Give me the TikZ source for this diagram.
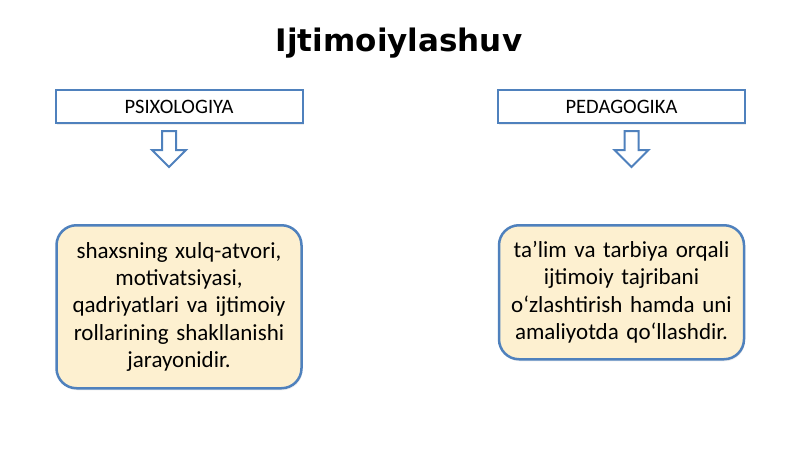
\documentclass[tikz,border=0pt]{standalone}
\usepackage{fontspec}
\setmainfont{Carlito}
\newfontfamily\titlefont{DejaVu Sans}
\usetikzlibrary{positioning,shapes.arrows,shadows}
\definecolor{boxblue}{HTML}{4F81BD}
\definecolor{boxfill}{HTML}{FDF0D0}

\begin{document}
\begin{tikzpicture}[x=1pt,y=1pt,
    head/.style={draw=boxblue,line width=2pt,fill=white,minimum width=247pt,minimum height=33pt,
      inner sep=0pt,font=\fontsize{20.5}{24}\selectfont,
      drop shadow={opacity=0.15,shadow xshift=1pt,shadow yshift=-2pt}},
    downarrow/.style={single arrow,draw=boxblue,line width=2pt,fill=white,rotate=-90,
      minimum height=36pt,minimum width=32pt,inner sep=6pt,single arrow head extend=10pt},
    note/.style={draw=boxblue,line width=2.5pt,fill=boxfill,rounded corners=20pt,text width=229pt,
      align=center,inner xsep=8pt,font=\fontsize{23}{27.3}\selectfont,
      drop shadow={opacity=0.12,shadow xshift=1pt,shadow yshift=-2pt}}]
  \useasboundingbox[fill=white] (0,0) rectangle (800,-449);

  \node[font=\titlefont\bfseries\fontsize{31}{36}\selectfont,anchor=base] (title) at (399,-52) {Ijtimoiylashuv};

  \node[head] (psy) at (179,-106.5) {PSIXOLOGIYA};
  \node[head] (ped) at (621.5,-106.5) {PEDAGOGIKA};

  \node[downarrow,anchor=west] (psyarrow) at ([xshift=-10pt,yshift=-6pt]psy.south) {};
  \node[downarrow,anchor=west] (pedarrow) at ([xshift=10pt,yshift=-6pt]ped.south) {};

  \node[note,minimum height=163pt,anchor=north] (psynote) at ([yshift=-100pt]psy.south)
    {shaxsning xulq-atvori,\\ motivatsiyasi,\\ qadriyatlari va ijtimoiy\\ rollarining shakllanishi\\ jarayonidir.};
  \node[note,minimum height=134pt,anchor=north] (pednote) at ([yshift=-100pt]ped.south)
    {ta’lim va tarbiya orqali\\ ijtimoiy tajribani\\ o‘zlashtirish hamda uni\\ amaliyotda qo‘llashdir.};
\end{tikzpicture}
\end{document}
